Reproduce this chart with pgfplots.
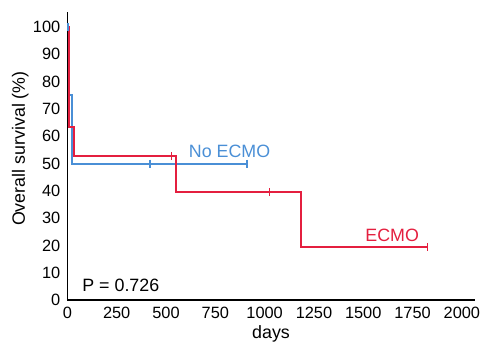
\documentclass[border=0pt]{standalone}
\usepackage{fontspec}
\setmainfont{Liberation Sans}
\usepackage{pgfplots}
\pgfplotsset{compat=1.18}
\definecolor{bluec}{HTML}{4A8FD6}
\definecolor{redc}{HTML}{E41F3F}
\begin{document}
\fontsize{18}{21}\selectfont
\begin{tikzpicture}
\begin{axis}[
  scale only axis,
  width=411pt, height=291pt,
  xmin=0, xmax=2065, ymin=0, ymax=105.5,
  axis lines=left,
  axis line style={line width=1.6pt, -},
  xtick={0,250,...,2000},
  ytick={0,10,...,100},
  major tick length=0pt,
  tick label style={font=\fontsize{16.5}{19}\selectfont},
  /pgf/number format/assume math mode=true,
  /pgf/number format/1000 sep={},
  xticklabel style={yshift=-1pt},
  yticklabel style={xshift=-1pt},
  xlabel={days},
  ylabel={Overall survival (\%)},
  xlabel style={at={(axis description cs:0.5,-0.118)}, anchor=center},
  ylabel style={at={(axis description cs:-0.116,0.526)}, anchor=center},
  label style={font=\fontsize{18}{21}\selectfont},
  clip=false,
]
\addplot[const plot, bluec, line width=2pt] coordinates {
  (0,100) (10,75) (24,50) (910,50)
};
\addplot[only marks, mark=|, mark size=4pt, bluec, mark options={line width=1.5pt}] coordinates {
  (3,100) (420,50) (910,50)
};
\addplot[const plot, redc, line width=2pt] coordinates {
  (0,100) (6,63.5) (35,52.7) (553,39.6) (1183,19.4) (1827,19.4)
};
\addplot[only marks, mark=|, mark size=4pt, redc, mark options={line width=1.5pt}] coordinates {
  (528,52.7) (1024,39.6) (1827,19.4)
};
\node[anchor=west, text=bluec, inner sep=0pt] at (axis cs:615,54.5) {No ECMO};
\node[anchor=west, text=redc, inner sep=0pt] at (axis cs:1510,23.8) {ECMO};
\node[anchor=west, inner sep=0pt] at (axis cs:75,5.5) {P = 0.726};
\path (rel axis cs:0,0) ++(-68pt,-44pt) (rel axis cs:1,1) ++(7pt,12pt);
\end{axis}
\end{tikzpicture}
\end{document}
